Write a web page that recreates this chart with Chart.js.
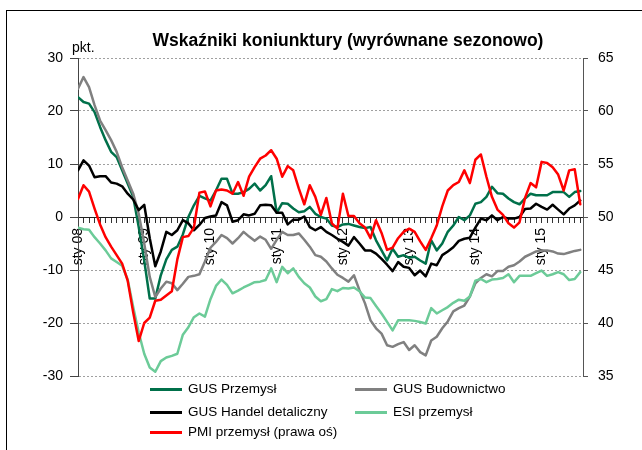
<!DOCTYPE html>
<html>
<head>
<meta charset="utf-8">
<script src="https://cdn.jsdelivr.net/npm/chart.js@4.4.0/dist/chart.umd.min.js"></script>
<style>
html,body{margin:0;padding:0;background:#fff;}
#wrap{position:relative;width:642px;height:450px;overflow:hidden;font-family:"Liberation Sans",Arial,sans-serif;color:#000;}
#frame{position:absolute;left:6px;top:10px;width:700px;height:500px;border-left:1px solid #000;border-top:1px solid #000;}
#c{position:absolute;left:0;top:0;}
#title{position:absolute;left:0;top:30px;width:696px;text-align:center;font-weight:bold;font-size:17.5px;line-height:20px;white-space:nowrap;}
#unit{position:absolute;left:72px;top:39px;font-size:14px;line-height:16px;}
.li{position:absolute;height:16px;font-size:13.5px;line-height:16px;white-space:nowrap;}
.li i{position:absolute;left:0;top:6.5px;width:32px;height:3px;}
.li span{position:absolute;left:38px;top:0;}
</style>
</head>
<body>
<div id="wrap">
  <div id="frame"></div>
  <canvas id="c" width="642" height="450"></canvas>
  <div id="title">Wskaźniki koniunktury (wyrównane sezonowo)</div>
  <div id="unit">pkt.</div>
  <div id="legend"></div>
</div>
<script>
// Tick labels (January of each year), monthly data Jan 2008 - Aug 2015
const tickLabels = ['sty 08','sty 09','sty 10','sty 11','sty 12','sty 13','sty 14','sty 15'];

const gusPrzemysl = [22.6,21.7,21.4,19.8,17.0,14.5,12.3,11.3,8.8,6.3,
 3.8,-1.9,-8.2,-15.4,-15.4,-11.0,-8.0,-6.2,-5.6,-3.3,
 0.0,2.2,4.0,3.5,3.1,5.0,7.2,7.2,4.4,4.4,
 4.7,5.3,6.3,5.0,6.0,7.7,0.8,2.6,2.5,1.6,
 0.9,1.1,1.9,0.6,0.0,-0.3,-1.6,-1.9,-1.4,-1.3,
 -1.6,-1.9,-2.1,-1.9,-4.4,-6.3,-8.2,-6.0,-7.5,-7.2,
 -7.7,-7.5,-8.2,-8.8,-4.4,-6.3,-5.0,-2.8,-1.6,0.0,
 -0.6,0.3,2.5,2.8,3.8,5.7,4.5,4.4,3.5,2.8,
 2.4,3.5,4.4,4.1,4.1,4.1,4.7,4.7,4.7,3.8,
 4.7,4.9];

const gusBudownictwo = [24.2,26.4,24.5,21.1,18.2,16.4,14.5,12.3,9.4,6.9,
 4.4,0.6,-5.0,-11.3,-15.1,-13.5,-12.2,-12.5,-13.8,-12.6,
 -11.3,-11.1,-10.8,-8.4,-5.8,-4.7,-3.4,-4.0,-5.0,-4.0,
 -2.8,-3.7,-4.5,-3.7,-4.3,-6.0,-4.3,-2.8,-3.4,-3.4,
 -3.1,-4.3,-5.6,-7.2,-7.5,-8.4,-9.7,-10.9,-11.5,-12.2,
 -11.0,-13.8,-16.3,-19.5,-21.0,-22.0,-24.2,-24.5,-24.0,-23.6,
 -25.1,-24.2,-25.5,-26.1,-23.3,-22.6,-21.0,-19.7,-17.8,-17.2,
 -16.7,-15.0,-12.5,-11.5,-10.8,-11.2,-10.2,-10.2,-9.4,-9.1,
 -8.4,-7.5,-7.0,-6.5,-6.3,-6.3,-6.5,-6.9,-7.0,-6.7,
 -6.4,-6.2];

const gusHandel = [8.8,10.7,9.7,7.5,7.7,7.7,6.5,6.3,5.8,4.4,
 3.3,1.3,2.3,-4.0,-9.3,-6.5,-2.8,-3.4,-2.5,-0.6,
 -1.2,-2.5,-1.5,-0.2,0.1,0.3,2.8,2.2,-0.9,-0.6,
 0.5,0.3,0.6,2.2,2.3,2.2,0.8,0.8,-1.4,-0.5,
 -0.5,0.1,-1.9,-2.5,-1.9,-2.8,-3.4,-4.1,-4.7,-5.4,
 -3.8,-5.0,-6.3,-6.3,-6.9,-7.9,-9.0,-10.2,-8.5,-9.4,
 -9.6,-11.0,-10.1,-11.2,-8.8,-9.1,-7.2,-6.5,-5.7,-4.5,
 -4.1,-3.9,-2.0,-0.3,-0.6,0.3,-0.6,0.0,-0.3,-0.3,
 0.0,1.5,1.6,2.5,1.9,1.4,2.3,1.4,0.5,1.6,
 2.2,3.1];

const esiPrzemysl = [-2.0,-2.3,-2.4,-3.8,-5.0,-6.3,-7.8,-8.5,-9.2,-11.8,
 -17.0,-21.8,-25.8,-28.4,-29.2,-27.2,-26.5,-26.2,-25.8,-22.2,
 -20.8,-18.9,-18.2,-18.8,-15.5,-13.0,-11.8,-12.8,-14.4,-13.9,
 -13.3,-12.8,-12.3,-12.2,-11.9,-9.7,-12.3,-9.4,-10.6,-9.7,
 -11.3,-12.5,-13.3,-15.0,-15.9,-15.5,-13.6,-14.0,-13.4,-13.5,
 -13.3,-14.0,-15.2,-15.3,-16.8,-18.2,-19.8,-21.4,-19.5,-19.5,
 -19.5,-19.6,-19.8,-20.1,-17.2,-18.2,-17.6,-17.0,-16.2,-15.6,
 -15.8,-15.0,-12.0,-11.7,-12.3,-11.8,-11.7,-11.5,-10.8,-12.3,
 -11.1,-11.1,-11.1,-10.6,-10.1,-11.1,-10.8,-10.4,-10.8,-11.9,
 -11.7,-10.4];

const pmiPrzemysl = [51.7,53.0,52.4,50.8,49.3,48.1,47.2,46.4,45.6,44.0,
 41.0,38.3,40.0,40.5,42.1,42.2,42.6,43.0,46.0,48.1,
 48.2,49.0,52.3,52.4,51.0,52.5,52.6,52.5,52.2,53.3,
 52.0,53.8,54.7,55.5,55.8,56.3,55.5,53.8,54.8,54.4,
 52.7,51.2,53.0,51.9,50.2,51.8,49.4,48.9,52.2,50.1,
 50.1,49.4,49.0,48.0,49.7,48.5,46.9,47.1,48.0,48.6,
 48.9,48.6,47.7,46.9,48.0,49.2,51.0,52.5,53.0,53.3,
 54.4,53.2,55.4,55.9,53.8,51.9,50.7,50.2,49.4,49.0,
 49.5,51.8,53.2,52.8,55.2,55.1,54.7,54.0,52.5,54.4,
 54.5,51.2];

const seriesNames = ['GUS Przemysł','GUS Budownictwo','GUS Handel detaliczny','ESI przemysł','PMI przemysł (prawa oś)'];
const seriesColors = ['#00704A','#808080','#000000','#6CCB98','#FF0000'];

const toXY = arr => arr.map((v, i) => ({x: i, y: v}));
function ds(idx, arr, axis, order) {
  return {
    label: seriesNames[idx], data: toXY(arr), yAxisID: axis, order: order,
    borderColor: seriesColors[idx], backgroundColor: seriesColors[idx],
    borderWidth: 2.5, pointRadius: 0, tension: 0, fill: false,
    borderJoinStyle: 'round', borderCapStyle: 'round'
  };
}

Chart.defaults.font.family = "'Liberation Sans', Arial, sans-serif";
Chart.defaults.font.size = 14;
Chart.defaults.color = '#000';

new Chart(document.getElementById('c'), {
  type: 'line',
  data: {
    datasets: [
      ds(0, gusPrzemysl, 'y', 5),
      ds(1, gusBudownictwo, 'y', 4),
      ds(2, gusHandel, 'y', 3),
      ds(3, esiPrzemysl, 'y', 2),
      ds(4, pmiPrzemysl, 'y1', 1)
    ]
  },
  options: {
    responsive: false,
    animation: false,
    layout: {padding: {left: 38, right: 19, top: 58, bottom: 74}},
    plugins: {legend: {display: false}, tooltip: {enabled: false}, title: {display: false}},
    scales: {
      x: {
        type: 'linear', position: {y: 0}, min: 0, max: 91.5,
        afterBuildTicks: s => { s.ticks = gusPrzemysl.map((_, i) => ({value: i})); },
        grid: {drawOnChartArea: false, drawTicks: true, tickLength: 5, tickColor: '#333', tickWidth: 1},
        border: {display: true, color: '#222', width: 1},
        ticks: {
          autoSkip: false, minRotation: 90, maxRotation: 90, padding: 6,
          font: {size: 14}, color: '#000',
          callback: v => (v % 12 === 0 ? tickLabels[v / 12] : '')
        }
      },
      y: {
        position: 'left', min: -30, max: 30,
        afterFit: s => { s.width = 40; },
        ticks: {stepSize: 10, padding: 7, font: {size: 14}, color: '#000'},
        grid: {color: '#a0a0a0', lineWidth: 1, tickLength: 8, tickColor: '#444', tickBorderDash: []},
        border: {display: true, color: '#444', width: 1, dash: [2, 2]}
      },
      y1: {
        position: 'right', min: 35, max: 65,
        afterFit: s => { s.width = 40; },
        ticks: {stepSize: 5, padding: 10, font: {size: 14}, color: '#000'},
        grid: {drawOnChartArea: false, tickLength: 5, tickColor: '#555'},
        border: {display: true, color: '#555', width: 1}
      }
    }
  }
});

// HTML legend in two columns like the reference
const legendPos = [[150, 381], [355, 381], [150, 404], [355, 404], [150, 424]];
const legend = document.getElementById('legend');
seriesNames.forEach((name, i) => {
  const d = document.createElement('div');
  d.className = 'li';
  d.style.left = legendPos[i][0] + 'px';
  d.style.top = legendPos[i][1] + 'px';
  d.innerHTML = '<i style="background:' + seriesColors[i] + '"></i><span>' + name + '</span>';
  legend.appendChild(d);
});
</script>
</body>
</html>
